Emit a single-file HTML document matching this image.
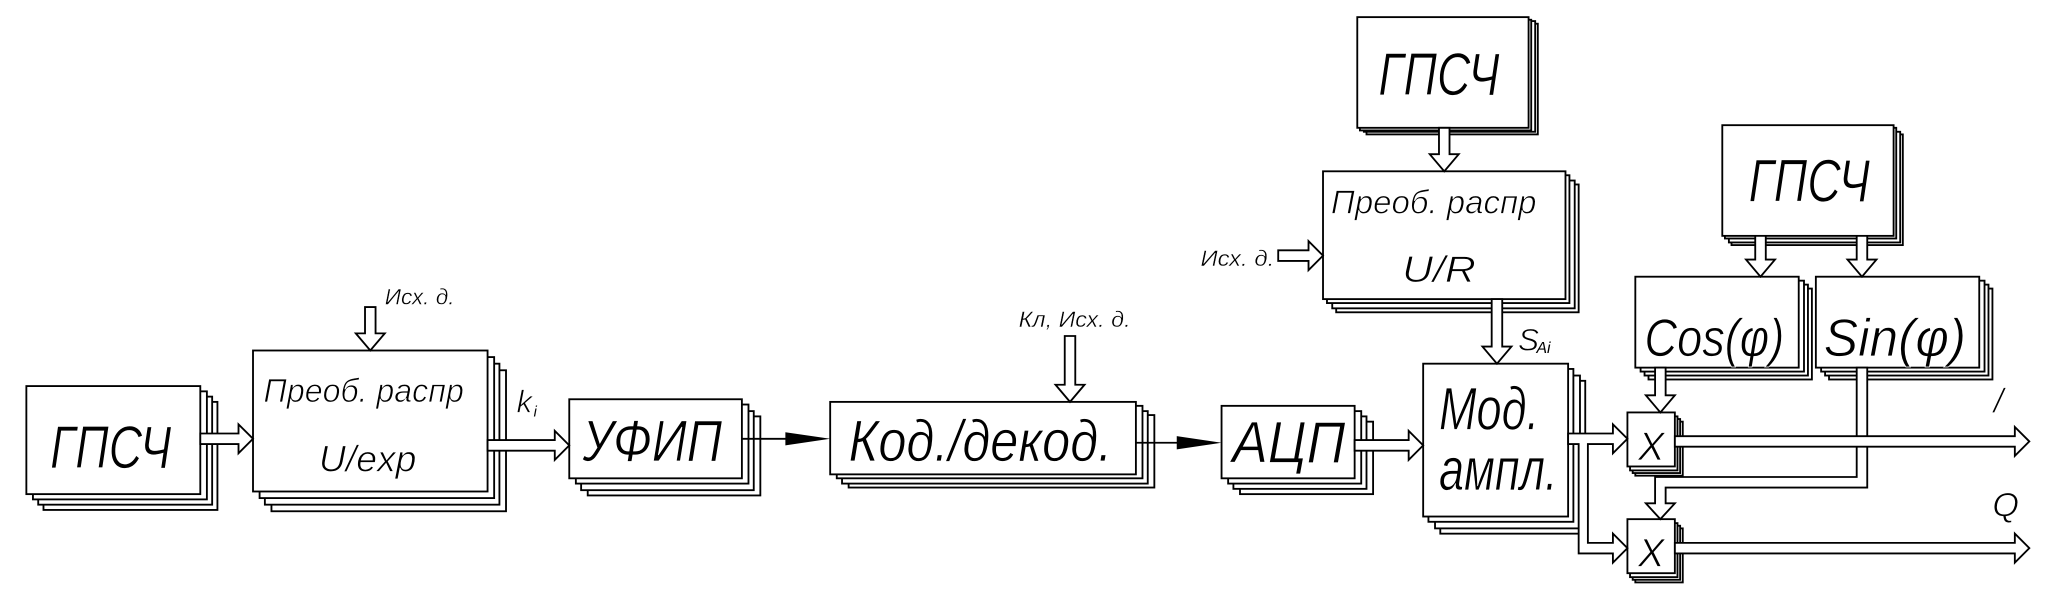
<!DOCTYPE html>
<html><head><meta charset="utf-8"><style>
html,body{margin:0;padding:0;background:#fff;}
svg{display:block;}
text{font-family:"Liberation Sans","DejaVu Sans",sans-serif;font-style:italic;fill:#000;stroke:#fff;stroke-width:0.6;}
</style></head><body>
<svg width="2057" height="589" viewBox="0 0 1561 447" preserveAspectRatio="none" xmlns="http://www.w3.org/2000/svg">
<g fill="#fff" stroke="#000" stroke-width="1.4">
<rect x="33" y="305" width="132" height="82"/><rect x="29" y="301" width="132" height="82"/><rect x="25" y="297" width="132" height="82"/><rect x="20" y="293" width="132" height="82"/>
<rect x="206" y="281" width="178" height="107"/><rect x="201" y="276" width="178" height="107"/><rect x="197" y="271" width="178" height="107"/><rect x="192" y="266" width="178" height="107"/>
<rect x="446" y="316" width="131" height="60"/><rect x="441" y="312" width="131" height="60"/><rect x="437" y="307" width="131" height="60"/><rect x="432" y="303" width="131" height="60"/>
<rect x="644" y="315" width="232" height="55"/><rect x="639" y="312" width="232" height="55"/><rect x="635" y="308" width="232" height="55"/><rect x="630" y="305" width="232" height="55"/>
<rect x="941" y="320" width="101" height="55"/><rect x="936" y="316" width="101" height="55"/><rect x="932" y="312" width="101" height="55"/><rect x="927" y="308" width="101" height="55"/>
<rect x="1093" y="289" width="110" height="116"/><rect x="1089" y="285" width="110" height="116"/><rect x="1084" y="280" width="110" height="116"/><rect x="1080" y="276" width="110" height="116"/>
<rect x="1037" y="18" width="130" height="84"/><rect x="1035" y="16" width="130" height="84"/><rect x="1032" y="15" width="130" height="84"/><rect x="1030" y="13" width="130" height="84"/>
<rect x="1014" y="140" width="184" height="97"/><rect x="1011" y="137" width="184" height="97"/><rect x="1007" y="133" width="184" height="97"/><rect x="1004" y="130" width="184" height="97"/>
<rect x="1314" y="102" width="130" height="84"/><rect x="1312" y="100" width="130" height="84"/><rect x="1309" y="97" width="130" height="84"/><rect x="1307" y="95" width="130" height="84"/>
<rect x="1251" y="219" width="124" height="69"/><rect x="1248" y="216" width="124" height="69"/><rect x="1245" y="213" width="124" height="69"/><rect x="1241" y="210" width="124" height="69"/>
<rect x="1388" y="219" width="124" height="69"/><rect x="1385" y="216" width="124" height="69"/><rect x="1382" y="213" width="124" height="69"/><rect x="1378" y="210" width="124" height="69"/>
<rect x="1241" y="320" width="36" height="41"/><rect x="1239" y="318" width="36" height="41"/><rect x="1237" y="316" width="36" height="41"/><rect x="1235" y="313" width="36" height="41"/>
<rect x="1241" y="401" width="36" height="41"/><rect x="1239" y="399" width="36" height="41"/><rect x="1237" y="397" width="36" height="41"/><rect x="1235" y="394" width="36" height="41"/>

<polygon points="152,329 181,329 181,322 192,333 181,344 181,337 152,337"/>
<polygon points="370,334 421,334 421,327 432,338 421,349 421,342 370,342"/>
<polygon points="1028,334 1069,334 1069,327 1080,338 1069,349 1069,342 1028,342"/>
<polygon points="277,233 277,253 270,253 281,266 292,253 285,253 285,233"/>
<polygon points="808,255 808,292 801,292 812,305 823,292 816,292 816,255"/>
<polygon points="1092,97 1092,117 1085,117 1096,130 1107,117 1100,117 1100,97"/>
<polygon points="1132,227 1132,263 1125,263 1136,276 1147,263 1140,263 1140,227"/>
<polygon points="970,190 993,190 993,183 1004,194 993,205 993,198 970,198"/>
<polygon points="1332,179 1332,197 1325,197 1336,210 1347,197 1340,197 1340,179"/>
<polygon points="1409,179 1409,197 1402,197 1413,210 1424,197 1417,197 1417,179"/>
<polygon points="1256,279 1256,300 1249,300 1260,313 1271,300 1264,300 1264,279"/>
<polygon points="1190,329 1224,329 1224,322 1235,333 1224,344 1224,337 1205,337 1205,412 1224,412 1224,405 1235,416 1224,427 1224,420 1198,420 1198,337 1190,337"/>
<polygon points="1409,279 1409,362 1256,362 1256,382 1249,382 1260,394 1271,382 1264,382 1264,370 1417,370 1417,279"/>
<polygon points="1271,331 1529,331 1529,324 1540,335 1529,346 1529,339 1271,339"/>
<polygon points="1271,412 1529,412 1529,405 1540,416 1529,427 1529,420 1271,420"/>
</g>
<g stroke="#000" stroke-width="1.4">
<line x1="563" y1="333" x2="600" y2="333"/>
<line x1="862" y1="336" x2="900" y2="336"/>
</g>
<polygon points="596,328 630,333 596,338" fill="#000"/>
<polygon points="893,331 927,336 893,341" fill="#000"/>

<text x="38" y="355" font-size="46" textLength="92" lengthAdjust="spacingAndGlyphs">ГПСЧ</text>
<text x="200" y="305" font-size="25" textLength="152" lengthAdjust="spacingAndGlyphs">Преоб. распр</text>
<text x="242" y="358" font-size="28" textLength="74" lengthAdjust="spacingAndGlyphs">U/exp</text>
<text x="292" y="231" font-size="17" textLength="53" lengthAdjust="spacingAndGlyphs" style="stroke-width:0.3">Исх. д.</text>
<text x="392" y="313" font-size="24">k</text><text x="405" y="316" font-size="11" style="stroke:none">i</text>
<text x="442" y="350" font-size="44" textLength="106" lengthAdjust="spacingAndGlyphs">УФИП</text>
<text x="644" y="350" font-size="44" textLength="200" lengthAdjust="spacingAndGlyphs">Код./декод.</text>
<text x="773" y="248" font-size="17" textLength="85" lengthAdjust="spacingAndGlyphs" style="stroke-width:0.3">Кл, Исх. д.</text>
<text x="935" y="351" font-size="44" textLength="86" lengthAdjust="spacingAndGlyphs">АЦП</text>
<text x="1092" y="326" font-size="46" textLength="76" lengthAdjust="spacingAndGlyphs">Мод.</text>
<text x="1092" y="372" font-size="46" textLength="90" lengthAdjust="spacingAndGlyphs">ампл.</text>
<text x="1046" y="72" font-size="46" textLength="92" lengthAdjust="spacingAndGlyphs">ГПСЧ</text>
<text x="1010" y="162" font-size="25" textLength="156" lengthAdjust="spacingAndGlyphs">Преоб. распр</text>
<text x="1064" y="214" font-size="28" textLength="56" lengthAdjust="spacingAndGlyphs">U/R</text>
<text x="911" y="202" font-size="17" textLength="56" lengthAdjust="spacingAndGlyphs" style="stroke-width:0.3">Исх. д.</text>
<text x="1152" y="266" font-size="24">S</text><text x="1166" y="268" font-size="12" style="stroke:none">Ai</text>
<text x="1327" y="153" font-size="46" textLength="92" lengthAdjust="spacingAndGlyphs">ГПСЧ</text>
<text x="1248" y="270" font-size="40" textLength="106" lengthAdjust="spacingAndGlyphs">Cos(φ)</text>
<text x="1384" y="270" font-size="40" textLength="108" lengthAdjust="spacingAndGlyphs">Sin(φ)</text>
<text x="1243" y="349" font-size="30">X</text>
<text x="1243" y="430" font-size="30">X</text>
<text x="1513" y="313" font-size="26">/</text>
<text x="1512" y="392" font-size="26">Q</text>
</svg>
</body></html>
